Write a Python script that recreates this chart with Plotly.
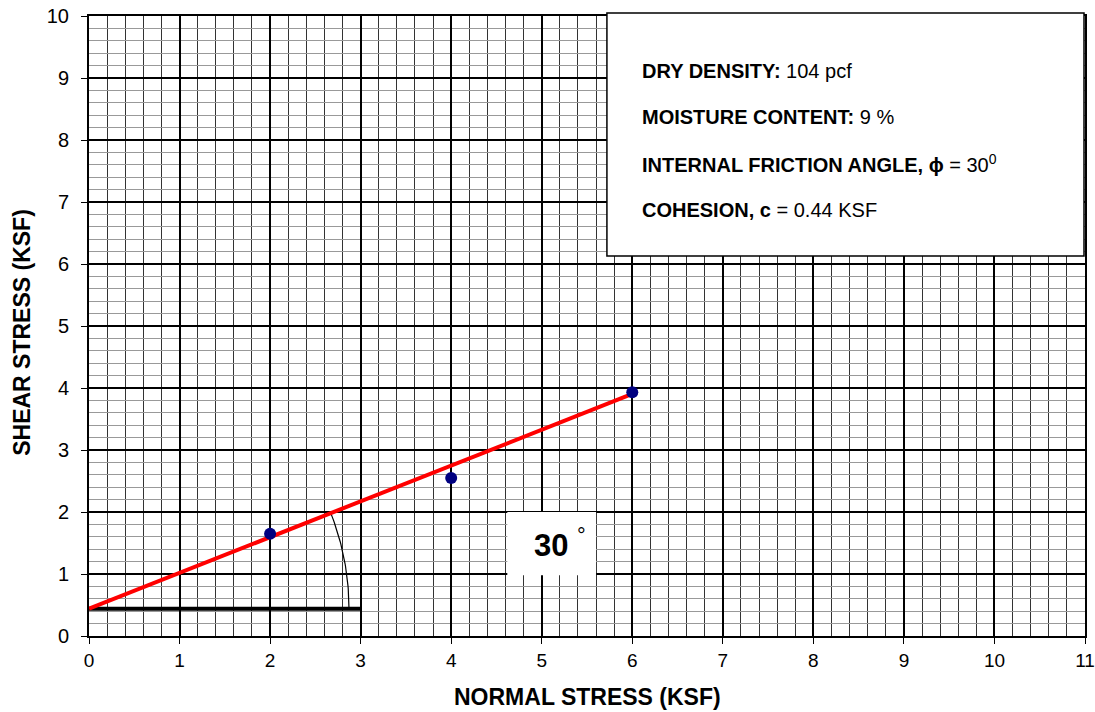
import numpy as np
import plotly.graph_objects as go

# test results
normal_stress = [2, 4, 6]
shear_stress = [1.65, 2.55, 3.93]

# strength parameters
cohesion = 0.44
phi_deg = 30
dry_density = 104
moisture = 9

x_ticks = list(range(0, 12))
y_ticks = list(range(0, 11))

W, H = 1095, 712
M = dict(l=89, r=10, t=16, b=76)
X_RANGE = [0, 11]
Y_RANGE = [0, 10]
FONT = "Liberation Sans, Arial, sans-serif"

fig = go.Figure()

# failure envelope
slope = np.tan(np.radians(phi_deg))
env_x = np.array([0, max(normal_stress)])
env_y = cohesion + slope * env_x

# horizontal reference line at the cohesion intercept
fig.add_trace(go.Scatter(x=[0, 3], y=[cohesion, cohesion], mode="lines",
                         line=dict(color="black", width=4), hoverinfo="skip"))

# angle arc, drawn round in screen space
px_x = (W - M["l"] - M["r"]) / (X_RANGE[1] - X_RANGE[0])
px_y = (H - M["t"] - M["b"]) / (Y_RANGE[1] - Y_RANGE[0])
r_px = 260
ang = np.arctan(slope * px_y / px_x)
t = np.linspace(0, ang, 40)
fig.add_trace(go.Scatter(x=r_px * np.cos(t) / px_x, y=cohesion + r_px * np.sin(t) / px_y,
                         mode="lines", line=dict(color="black", width=1.2), hoverinfo="skip"))

fig.add_trace(go.Scatter(x=env_x, y=env_y, mode="lines",
                         line=dict(color="#ff0000", width=4), hoverinfo="skip"))

fig.add_trace(go.Scatter(x=normal_stress, y=shear_stress, mode="markers",
                         marker=dict(color="#000080", size=12)))

# info box
fig.add_shape(type="rect", xref="paper", yref="paper", x0=0.52, x1=0.999, y0=0.613, y1=1.005,
              fillcolor="white", line=dict(color="black", width=1.5), layer="above")
info = [
    f"<b>DRY DENSITY:</b> {dry_density} pcf",
    f"<b>MOISTURE CONTENT:</b> {moisture} %",
    f"<b>INTERNAL FRICTION ANGLE, ϕ</b> = {phi_deg}<sup>0</sup>",
    f"<b>COHESION, c</b> = {cohesion} KSF",
]
for i, txt in enumerate(info):
    fig.add_annotation(xref="paper", yref="paper", x=0.553, y=0.911 - i * 0.0747,
                       text=txt, showarrow=False, xanchor="left", yanchor="middle",
                       font=dict(family=FONT, size=20, color="black"))

# angle label box
fig.add_shape(type="rect", x0=4.62, x1=5.6, y0=0.98, y1=2.0,
              fillcolor="white", line=dict(width=0), layer="above")
fig.add_annotation(x=5.2, y=1.5, text=f"<b>{phi_deg}</b> <sup>°</sup>", showarrow=False,
                   font=dict(family=FONT, size=31, color="black"))

# axis titles
fig.add_annotation(xref="paper", yref="paper", x=0.5, y=0, yshift=-61,
                   text="<b>NORMAL STRESS (KSF)</b>", showarrow=False,
                   xanchor="center", yanchor="middle",
                   font=dict(family=FONT, size=23, color="black"))
fig.add_annotation(xref="paper", yref="paper", x=0, xshift=-67, y=0.489,
                   text="<b>SHEAR STRESS (KSF)</b>", showarrow=False, textangle=-90,
                   xanchor="center", yanchor="middle",
                   font=dict(family=FONT, size=23, color="black"))

axis_common = dict(
    showgrid=True, gridcolor="black", gridwidth=2,
    showline=True, mirror=True, linecolor="black", linewidth=2,
    ticks="outside", ticklen=6, tickcolor="black", tickwidth=1,
    zeroline=False, automargin=False, ticklabeloverflow="allow",
)

fig.update_xaxes(range=X_RANGE, tickvals=x_ticks,
                 tickfont=dict(family=FONT, size=19, color="black"),
                 minor=dict(dtick=0.2, showgrid=True, gridcolor="#333333", gridwidth=1),
                 **axis_common)
fig.update_yaxes(range=Y_RANGE, tickvals=y_ticks,
                 tickfont=dict(family=FONT, size=20, color="black"),
                 ticklabelstandoff=8,
                 minor=dict(dtick=0.2, showgrid=True, gridcolor="#999999", gridwidth=1),
                 **axis_common)

fig.update_layout(width=W, height=H, autosize=False, margin=M, showlegend=False,
                  plot_bgcolor="white", paper_bgcolor="white",
                  font=dict(family=FONT, color="black"))

# drop the page's default body margin so the chart sits at the window corner
fig.write_html("out.html", config={"displayModeBar": False},
               post_script="document.body.style.margin='0';")
